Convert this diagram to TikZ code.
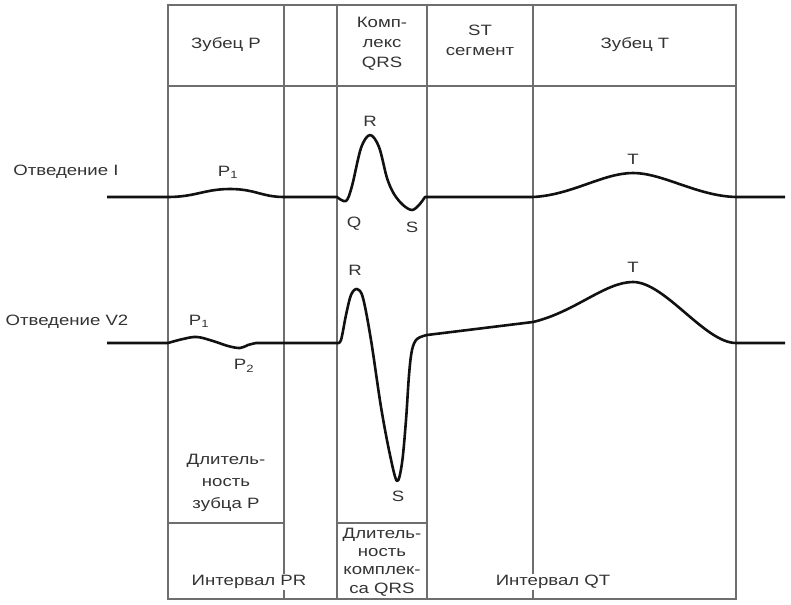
\documentclass[tikz,border=0pt]{standalone}
\usepackage{fontspec}
\setmainfont{Liberation Sans}[FakeStretch=1.24]
\definecolor{gridGray}{HTML}{6E6E6E}
\definecolor{traceBlack}{HTML}{111111}
\definecolor{labelDark}{HTML}{333333}
\usepackage{tikz}
\usetikzlibrary{positioning}

\begin{document}
\begin{tikzpicture}[x=1pt, y=-1pt,
    lbl/.style={font=\fontsize{15}{19}\selectfont, text=labelDark, align=center, inner sep=1pt},
    frame/.style={gridGray, line width=1.5pt},
    trace/.style={traceBlack, line width=2.6pt, line join=round}]
    \useasboundingbox (0,0) rectangle (791,604);

    % table grid
    \draw[frame] (168,5) rectangle (736,599);
    \draw[frame] (168,86) -- (736,86);
    \foreach \x in {284,337,427,533}
        \draw[frame] (\x,5) -- (\x,599);
    \draw[frame] (168,523) -- (284,523);
    \draw[frame] (337,523) -- (427,523);

    % lead I
    \draw[trace] (107,197) -- (168,197) .. controls (195,197) and (205,189) .. (230,189) .. controls (255,189) and (262,197) .. (284,197) -- (337,197)
        -- plot[smooth, tension=0.55] coordinates {(337,197) (346,201) (352,186) (361,148) (370,135) (379,147) (387,178) (394,194) (403,205) (412,210) (419,205) (425,197)}
        -- (533,197) .. controls (572,195) and (603,173) .. (633,173) .. controls (663,173) and (697,196) .. (736,197) -- (785,197);

    % lead V2
    \draw[trace] (107,343) -- (168,343)
        -- plot[smooth, tension=0.6] coordinates {(168,343) (183,339) (197,337) (213,341) (228,346) (240,348) (248,345) (256,343)}
        -- (337,343)
        -- plot[smooth, tension=0.55] coordinates {(337,343) (341,340) (346,315) (351,295) (357,289) (363,298) (371,340) (381,407) (390,455) (397,481) (402,463) (406,420) (409,375) (412,350) (417,339) (427,335)}
        -- (533,322) .. controls (575,312) and (605,282) .. (633,282) .. controls (665,282) and (705,343) .. (736,343) -- (785,343);

    % header
    \node[lbl] (hdrP) at (226,45) {Зубец P};
    \node[lbl, font=\fontsize{15}{20}\selectfont] (hdrQRS) at (382,44) {Комп-\\лекс\\QRS};
    \node[lbl, font=\fontsize{15}{20}\selectfont] (hdrST) at (480,40) {ST\\сегмент};
    \node[lbl] (hdrT) at (635,45) {Зубец T};

    % leads
    \node[lbl] (leadI) at (66,172) {Отведение I};
    \node[lbl] (leadV) at (67,322) {Отведение V2};

    % waves, lead I
    \node[lbl] (pI) at (228,172) {P\textsubscript{1}};
    \node[lbl] (rI) at (370,121) {R};
    \node[lbl] (qI) at (354,224) {Q};
    \node[lbl] (sI) at (412,227) {S};
    \node[lbl] (tI) at (633,159) {T};

    % waves, lead V2
    \node[lbl] (pOneV) at (199,321) {P\textsubscript{1}};
    \node[lbl] (pTwoV) at (244,366) {P\textsubscript{2}};
    \node[lbl] (rV) at (355,270) {R};
    \node[lbl] (sV) at (398,496) {S};
    \node[lbl] (tV) at (633,267) {T};

    % durations and intervals
    \node[lbl, font=\fontsize{15}{22}\selectfont] (durP) at (226,483) {Длитель-\\ность\\зубца P};
    \node[lbl, font=\fontsize{15}{18.3}\selectfont] (durQRS) at (382,562) {Длитель-\\ность\\комплек-\\са QRS};
    \node[lbl, fill=white] (intPR) at (249,582) {Интервал PR};
    \node[lbl, fill=white] (intQT) at (553,582) {Интервал QT};
\end{tikzpicture}
\end{document}
